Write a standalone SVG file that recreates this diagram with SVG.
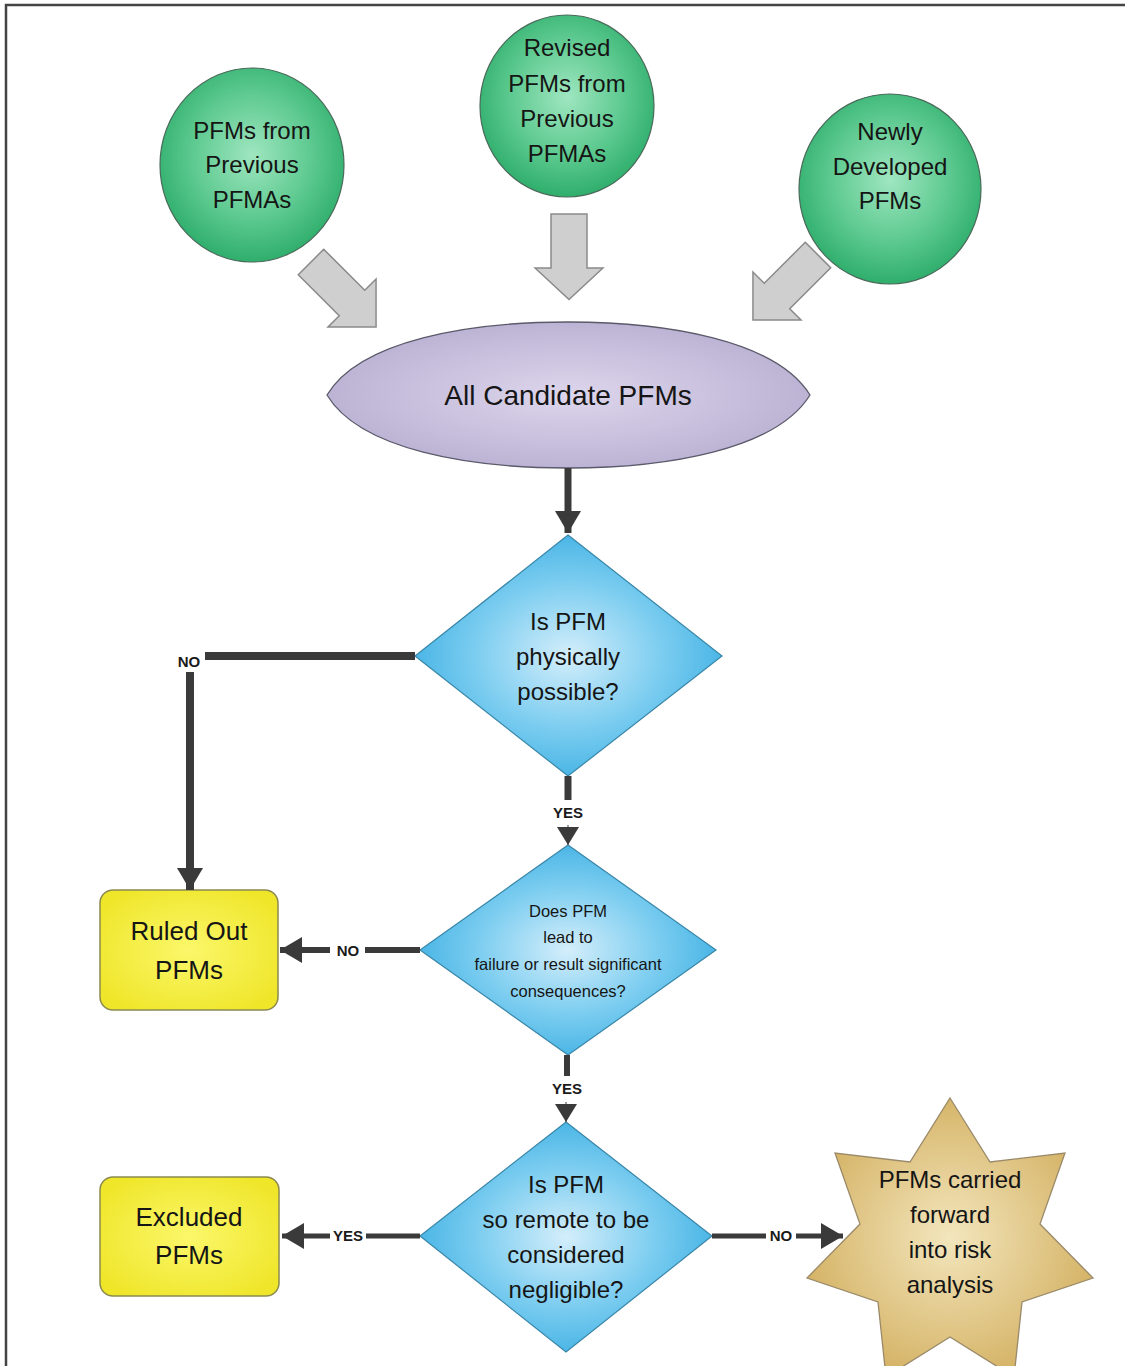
<svg xmlns="http://www.w3.org/2000/svg" width="1125" height="1366" viewBox="0 0 1125 1366">
<defs>
<radialGradient id="gGreen" cx="50%" cy="45%" r="55%">
<stop offset="0" stop-color="#9fe6c0"/>
<stop offset="0.6" stop-color="#5cc98f"/>
<stop offset="1" stop-color="#2fae6c"/>
</radialGradient>
<radialGradient id="gPurple" cx="50%" cy="50%" r="55%">
<stop offset="0" stop-color="#ddd6ec"/>
<stop offset="1" stop-color="#b9b0d2"/>
</radialGradient>
<radialGradient id="gBlue" cx="50%" cy="50%" r="55%">
<stop offset="0" stop-color="#d4eefb"/>
<stop offset="0.55" stop-color="#7ccdf0"/>
<stop offset="1" stop-color="#3fb0e3"/>
</radialGradient>
<radialGradient id="gYellow" cx="50%" cy="50%" r="60%">
<stop offset="0" stop-color="#fbf76a"/>
<stop offset="1" stop-color="#efe62a"/>
</radialGradient>
<radialGradient id="gGold" cx="50%" cy="50%" r="55%">
<stop offset="0" stop-color="#f3e6bd"/>
<stop offset="1" stop-color="#d3b061"/>
</radialGradient>
<marker id="ah" markerUnits="userSpaceOnUse" markerWidth="24" markerHeight="26" refX="22" refY="13" orient="auto">
<path d="M0,0 L22,13 L0,26 Z" fill="#3a3a3a"/>
</marker>
<marker id="ahs" markerUnits="userSpaceOnUse" markerWidth="20" markerHeight="22" refX="18" refY="11" orient="auto">
<path d="M0,0 L18,11 L0,22 Z" fill="#3a3a3a"/>
</marker>
<path id="blockArrow" d="M-18,0 L18,0 L18,58 L34,58 L0,92 L-34,58 L-18,58 Z"/>
</defs>
<style>
.frame{fill:none;stroke:#444;stroke-width:2.5}
.circle{fill:url(#gGreen);stroke:#4a6a5a;stroke-width:1.2}
.garrow{fill:#cfcfcf;stroke:#8a8a8a;stroke-width:1.5}
.txt{font-family:"Liberation Sans",Arial,sans-serif;fill:#151515;text-anchor:middle}
.lbl{font-family:"Liberation Sans",Arial,sans-serif;font-weight:bold;fill:#1a1a1a;text-anchor:middle;font-size:15px}
.conn{stroke:#3a3a3a;fill:none}
.dia{fill:url(#gBlue);stroke:#3a86a8;stroke-width:1.2}
.box{fill:url(#gYellow);stroke:#8a8a50;stroke-width:1.5}
</style>
<rect width="1125" height="1366" fill="#ffffff"/>
<path class="frame" d="M6,1366 L6,5 L1125,5"/>

<g id="node-prev-pfmas">
<ellipse class="circle" cx="252" cy="165" rx="92" ry="97"/>
<text class="txt" font-size="24"><tspan x="252" y="139">PFMs from</tspan><tspan x="252" y="173">Previous</tspan><tspan x="252" y="208">PFMAs</tspan></text>
</g>
<g id="node-revised">
<ellipse class="circle" cx="567" cy="106" rx="87" ry="91"/>
<text class="txt" font-size="24"><tspan x="567" y="56">Revised</tspan><tspan x="567" y="92">PFMs from</tspan><tspan x="567" y="127">Previous</tspan><tspan x="567" y="162">PFMAs</tspan></text>
</g>
<g id="node-newly">
<ellipse class="circle" cx="890" cy="189" rx="91" ry="95"/>
<text class="txt" font-size="24"><tspan x="890" y="140">Newly</tspan><tspan x="890" y="175">Developed</tspan><tspan x="890" y="209">PFMs</tspan></text>
</g>

<g id="block-arrows">
<use href="#blockArrow" class="garrow" transform="translate(311,262) rotate(-45)"/>
<use href="#blockArrow" class="garrow" transform="translate(569,214) scale(1,0.93)"/>
<use href="#blockArrow" class="garrow" transform="translate(818,255) rotate(45)"/>
</g>

<g id="node-all-candidates">
<path d="M327,395 C360,340 470,322 568,322 C666,322 776,340 810,395 C776,450 666,468 568,468 C470,468 360,450 327,395 Z" fill="url(#gPurple)" stroke="#5a5a6a" stroke-width="1.3"/>
<text class="txt" x="568" y="405" font-size="28" fill="#111">All Candidate PFMs</text>
</g>

<g id="node-d1">
<path class="dia" d="M568,535 L722,656 L568,776 L415,656 Z"/>
<text class="txt" font-size="24"><tspan x="568" y="630">Is PFM</tspan><tspan x="568" y="665">physically</tspan><tspan x="568" y="700">possible?</tspan></text>
</g>

<g id="node-d2">
<path class="dia" d="M568,845 L716,950 L568,1055 L420,950 Z"/>
<text class="txt" font-size="16.5"><tspan x="568" y="917">Does PFM</tspan><tspan x="568" y="943">lead to</tspan><tspan x="568" y="970">failure or result significant</tspan><tspan x="568" y="997">consequences?</tspan></text>
</g>

<g id="node-d3">
<path class="dia" d="M566,1122 L712,1236 L566,1352 L420,1236 Z"/>
<text class="txt" font-size="24"><tspan x="566" y="1193">Is PFM</tspan><tspan x="566" y="1228">so remote to be</tspan><tspan x="566" y="1263">considered</tspan><tspan x="566" y="1298">negligible?</tspan></text>
</g>

<g id="node-ruled-out">
<rect class="box" x="100" y="890" width="178" height="120" rx="13"/>
<text class="txt" font-size="26"><tspan x="189" y="940">Ruled Out</tspan><tspan x="189" y="979">PFMs</tspan></text>
</g>

<g id="node-excluded">
<rect class="box" x="100" y="1177" width="179" height="119" rx="13"/>
<text class="txt" font-size="26"><tspan x="189" y="1226">Excluded</tspan><tspan x="189" y="1264">PFMs</tspan></text>
</g>

<g id="node-carried-forward">
<path d="M950,1098 L990,1162 L1065,1153 L1040,1224 L1093,1278 L1022,1302 L1014,1377 L950,1337 L886,1377 L878,1302 L807,1278 L860,1224 L835,1153 L910,1162 Z" fill="url(#gGold)" stroke="#9a8a6a" stroke-width="1.3"/>
<text class="txt" font-size="24"><tspan x="950" y="1188">PFMs carried</tspan><tspan x="950" y="1223">forward</tspan><tspan x="950" y="1258">into risk</tspan><tspan x="950" y="1293">analysis</tspan></text>
</g>

<g id="connectors">
<line class="conn" x1="568" y1="468" x2="568" y2="533" stroke-width="7" marker-end="url(#ah)"/>
<line class="conn" x1="415" y1="656" x2="205" y2="656" stroke-width="8"/>
<line class="conn" x1="190" y1="672" x2="190" y2="890" stroke-width="8" marker-end="url(#ah)"/>
<line class="conn" x1="568" y1="776" x2="568" y2="800" stroke-width="7"/>
<line class="conn" x1="568" y1="825" x2="568" y2="845" stroke-width="1" marker-end="url(#ahs)"/>
<line class="conn" x1="420" y1="950" x2="365" y2="950" stroke-width="6"/>
<line class="conn" x1="330" y1="950" x2="280" y2="950" stroke-width="6" marker-end="url(#ah)"/>
<line class="conn" x1="567" y1="1055" x2="567" y2="1076" stroke-width="6"/>
<line class="conn" x1="566" y1="1102" x2="566" y2="1122" stroke-width="1" marker-end="url(#ahs)"/>
<line class="conn" x1="420" y1="1236" x2="366" y2="1236" stroke-width="5"/>
<line class="conn" x1="330" y1="1236" x2="282" y2="1236" stroke-width="5" marker-end="url(#ah)"/>
<line class="conn" x1="712" y1="1236" x2="766" y2="1236" stroke-width="5"/>
<line class="conn" x1="796" y1="1236" x2="843" y2="1236" stroke-width="5" marker-end="url(#ah)"/>
<text class="lbl" x="189" y="667">NO</text>
<text class="lbl" x="568" y="818">YES</text>
<text class="lbl" x="348" y="956">NO</text>
<text class="lbl" x="567" y="1094">YES</text>
<text class="lbl" x="348" y="1241" font-size="13">YES</text>
<text class="lbl" x="781" y="1241" font-size="13">NO</text>
</g>
</svg>
